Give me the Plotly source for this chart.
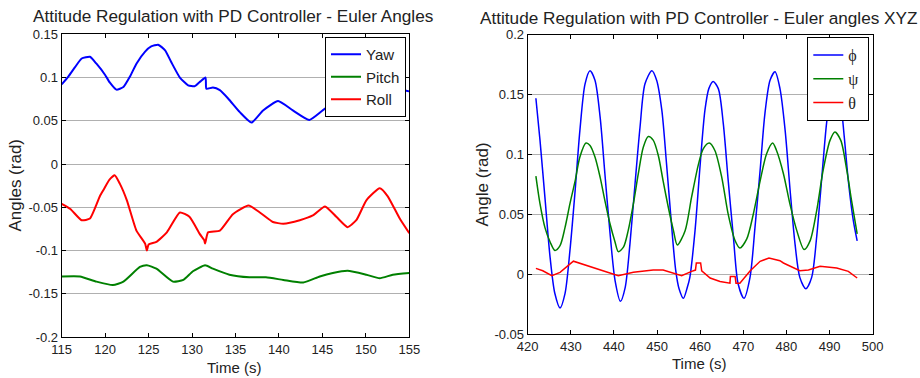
import plotly.graph_objects as go

# ---------------- Left panel: Euler Angles (time in s, angle in rad) ----------------
yaw_t = [115, 115.76, 116.53, 117.3, 118.25, 119.0, 120.0, 120.55, 121.3, 122.1, 122.85, 123.6,
         124.6, 125.3, 126.1, 126.9, 127.6, 128.6, 129.55, 130.3, 130.9, 131.55, 131.65, 132.4,
         133.2, 134.15, 135.5, 136.84, 138.17, 139.9, 141.6, 143.5, 145.3, 147, 149, 151, 153,
         154.65, 155]
yaw_v = [0.092, 0.101, 0.112, 0.122, 0.124, 0.116, 0.103, 0.094, 0.086, 0.089, 0.101, 0.116,
         0.130, 0.136, 0.138, 0.1315, 0.118, 0.100, 0.091, 0.090, 0.095, 0.100, 0.087, 0.0885,
         0.0854, 0.0758, 0.060, 0.048, 0.062, 0.0728, 0.062, 0.051, 0.064, 0.072, 0.080, 0.084,
         0.085, 0.0846, 0.084]

pitch_t = [115, 117.1, 119.0, 120.9, 122.1, 124.0, 124.8, 125.9, 127.8, 129.0, 130.1, 131.5,
           132.4, 134.3, 136.6, 138.5, 140.5, 142.8, 144.7, 146.2, 147.9, 150.06, 151.6, 153.1, 155]
pitch_v = [-0.130, -0.130, -0.136, -0.140, -0.136, -0.119, -0.117, -0.121, -0.136, -0.134, -0.124,
           -0.117, -0.121, -0.128, -0.131, -0.131, -0.134, -0.137, -0.130, -0.126, -0.1235, -0.128,
           -0.132, -0.128, -0.126]

roll_t = [115, 116.0, 117.3, 118.25, 119.4, 119.8, 120.5, 121.1, 121.7, 122.5, 123.6, 124.6,
          124.8, 125.0, 125.9, 127.1, 128.6, 129.7, 130.9, 131.4, 131.5, 131.85, 133.2, 134.7,
          136.5, 137.8, 139.3, 140.5, 142.4, 143.9, 145.3, 146.6, 147.9, 148.9, 150.06, 151.6,
          152.5, 153.9, 155]
roll_v = [-0.046, -0.052, -0.065, -0.063, -0.037, -0.030, -0.018, -0.013, -0.023, -0.042, -0.077,
          -0.092, -0.100, -0.093, -0.090, -0.079, -0.056, -0.061, -0.081, -0.088, -0.092, -0.079,
          -0.077, -0.058, -0.048, -0.056, -0.067, -0.069, -0.065, -0.0595, -0.049, -0.061, -0.073,
          -0.065, -0.042, -0.028, -0.037, -0.063, -0.080]

left_xticks = [115, 120, 125, 130, 135, 140, 145, 150, 155]
left_xticktext = ["115", "120", "125", "130", "135", "140", "145", "150", "155"]
left_yticks = [-0.2, -0.15, -0.1, -0.05, 0, 0.05, 0.1, 0.15]
left_yticktext = ["-0.2", "-0.15", "-0.1", "-0.05", "0", "0.05", "0.1", "0.15"]

# ---------------- Right panel: Euler angles XYZ ----------------
phi_t = [421.9, 422.85, 424.0, 425.2, 426.3, 427.5, 428.65, 429.8, 431.0, 432.1, 433.3, 434.45,
         435.6, 436.8, 437.9, 439.1, 440.25, 441.5, 442.6, 443.7, 444.9, 446.05, 447.2, 448.8,
         449.9, 451.1, 452.2, 453.2, 454.3, 455.1, 456.1, 457.0, 457.6, 458.8, 460.0, 461.1,
         462.0, 463.0, 464.2, 465.35, 466.5, 467.7, 468.8, 470.15, 471.55, 472.7, 473.9, 475.0,
         476.2, 477.35, 478.5, 479.7, 480.85, 482.0, 483.1, 484.5, 485.85, 487.0, 488.2, 489.3,
         490.3, 491.3, 492.4, 493.4, 494.35, 495.5, 496.4]
phi_v = [0.147, 0.112, 0.064, 0.014, -0.016, -0.028, -0.016, 0.020, 0.070, 0.120, 0.159, 0.170,
         0.162, 0.131, 0.084, 0.034, -0.005, -0.0225, -0.011, 0.025, 0.076, 0.123, 0.159, 0.170,
         0.162, 0.137, 0.092, 0.048, 0.004, -0.012, -0.020, -0.011, -0.0025, 0.0365, 0.092, 0.137,
         0.155, 0.161, 0.155, 0.126, 0.078, 0.031, -0.008, -0.020, -0.0025, 0.039, 0.087, 0.134,
         0.162, 0.169, 0.155, 0.120, 0.070, 0.025, -0.0025, -0.012, -0.0025, 0.031, 0.081, 0.126,
         0.152, 0.168, 0.150, 0.115, 0.078, 0.045, 0.028]

psi_t = [421.9, 422.85, 424.0, 425.2, 426.3, 427.5, 428.65, 429.8, 431.0, 432.1, 433.5, 434.45,
         435.6, 436.8, 437.9, 439.1, 440.25, 441.0, 442.2, 443.3, 444.5, 445.65, 446.8, 447.95,
         449.1, 450.3, 451.4, 452.6, 453.8, 454.7, 456.5, 458.0, 459.6, 460.7, 462.1, 463.4,
         465.0, 466.5, 468.1, 469.2, 470.8, 472.3, 473.9, 475.4, 476.8, 477.7, 479.3, 480.8,
         482.4, 484.1, 485.5, 487.0, 488.5, 490.1, 491.25, 492.6, 494.0, 495.1, 496.4]
psi_v = [0.082, 0.059, 0.039, 0.027, 0.020, 0.024, 0.039, 0.059, 0.078, 0.098, 0.1096, 0.1076,
         0.098, 0.081, 0.0616, 0.042, 0.027, 0.019, 0.0227, 0.0365, 0.0588, 0.084, 0.106, 0.115,
         0.112, 0.099, 0.078, 0.056, 0.0365, 0.0245, 0.0365, 0.0644, 0.092, 0.1048, 0.1096, 0.1034,
         0.081, 0.050, 0.028, 0.022, 0.0296, 0.050, 0.078, 0.1007, 0.1096, 0.1034, 0.084, 0.0588,
         0.0365, 0.0207, 0.0282, 0.053, 0.0867, 0.1118, 0.1188, 0.1118, 0.0867, 0.0616, 0.0337]

theta_t = [421.9, 423.5, 425.6, 427.5, 430.6, 433.7, 436.8, 441.0, 444.5, 447.0, 449.1, 451.4,
           453.0, 455.7, 458.0, 458.9, 459.1, 460.1, 460.35, 462.3, 464.6, 466.9, 467.0, 468.1,
           468.3, 469.2, 471.6, 473.9, 475.95, 478.5, 479.3, 481.6, 483.1, 485.1, 487.8, 491.65,
           494.35, 496.4]
theta_v = [0.005, 0.003, -0.001, 0.0017, 0.011, 0.0073, 0.0036, -0.0011, 0.0017, 0.003, 0.0036,
           0.0036, 0.0017, -0.0011, 0.0025, 0.0036, 0.0095, 0.0095, 0.003, -0.003, -0.0059, -0.0073,
           -0.0017, -0.0017, -0.0073, -0.0073, 0.003, 0.0109, 0.0137, 0.0114, 0.0095, 0.0053, 0.003,
           0.0036, 0.0067, 0.0053, 0.0025, -0.003]

right_xticks = [420, 430, 440, 450, 460, 470, 480, 490, 500]
right_xticktext = ["420", "430", "440", "450", "460", "470", "480", "490", "500"]
right_yticks = [-0.05, 0, 0.05, 0.1, 0.15, 0.2]
right_yticktext = ["-0.05", "0", "0.05", "0.1", "0.15", "0.2"]

BLUE, GREEN, RED = "#0000ff", "#008000", "#ff0000"
W, H = 920, 378
FONT = "Liberation Sans, Arial, sans-serif"
SERIF = "Liberation Serif, Times New Roman, serif"

fig = go.Figure()
fig.add_trace(go.Scatter(x=yaw_t, y=yaw_v, name="Yaw", mode="lines",
                         line=dict(color=BLUE, width=2, shape="spline", smoothing=0.5),
                         xaxis="x", yaxis="y", legend="legend"))
fig.add_trace(go.Scatter(x=pitch_t, y=pitch_v, name="Pitch", mode="lines",
                         line=dict(color=GREEN, width=2, shape="spline", smoothing=0.5),
                         xaxis="x", yaxis="y", legend="legend"))
fig.add_trace(go.Scatter(x=roll_t, y=roll_v, name="Roll", mode="lines",
                         line=dict(color=RED, width=2, shape="spline", smoothing=0.5),
                         xaxis="x", yaxis="y", legend="legend"))

fig.add_trace(go.Scatter(x=phi_t, y=phi_v, name="ϕ\u00a0", mode="lines",
                         line=dict(color=BLUE, width=1.5, shape="spline", smoothing=0.8),
                         xaxis="x2", yaxis="y2", legend="legend2"))
fig.add_trace(go.Scatter(x=psi_t, y=psi_v, name="ψ\u00a0", mode="lines",
                         line=dict(color=GREEN, width=1.5, shape="spline", smoothing=0.8),
                         xaxis="x2", yaxis="y2", legend="legend2"))
fig.add_trace(go.Scatter(x=theta_t, y=theta_v, name="θ\u00a0", mode="lines",
                         line=dict(color=RED, width=1.5),
                         xaxis="x2", yaxis="y2", legend="legend2"))

axis_common = dict(ticks="inside", ticklen=4, tickcolor="black", showline=True, linecolor="black",
                   linewidth=1, mirror="ticks", zeroline=False,
                   tickfont=dict(family=FONT, size=13, color="#222222"))

fig.update_layout(
    width=W, height=H, template="none",
    margin=dict(l=0, r=0, t=0, b=0),
    paper_bgcolor="white", plot_bgcolor="white",
    font=dict(family=FONT, color="#222222"),
    showlegend=True,
    xaxis=dict(domain=[61.7 / W, 409.3 / W], range=[115, 155], tickmode="array",
               tickvals=left_xticks, ticktext=left_xticktext, showgrid=False, anchor="y",
               **axis_common),
    yaxis=dict(domain=[1 - 337 / H, 1 - 34.3 / H], range=[-0.2, 0.15], tickmode="array",
               tickvals=left_yticks, ticktext=left_yticktext, showgrid=True,
               gridcolor="#b0b0b0", gridwidth=1, anchor="x", **axis_common),
    xaxis2=dict(domain=[527.7 / W, 872.7 / W], range=[420, 500], tickmode="array",
                tickvals=right_xticks, ticktext=right_xticktext, showgrid=False, anchor="y2",
                **axis_common),
    yaxis2=dict(domain=[1 - 334.3 / H, 1 - 34.7 / H], range=[-0.05, 0.2], tickmode="array",
                tickvals=right_yticks, ticktext=right_yticktext, showgrid=True,
                gridcolor="#b0b0b0", gridwidth=1, anchor="x2", **axis_common),
    legend=dict(x=406 / W, xanchor="right", y=1 - 37 / H, yanchor="top",
                bgcolor="white", bordercolor="black", borderwidth=1,
                font=dict(family=FONT, size=15, color="#222222")),
    legend2=dict(x=869.3 / W, xanchor="right", y=1 - 37 / H, yanchor="top",
                 bgcolor="white", bordercolor="black", borderwidth=1,
                 font=dict(family=SERIF, size=16, color="#222222")),
)

def ann(text, x, y, size=15, angle=0):
    fig.add_annotation(text=text, x=x / W, y=1 - y / H, xref="paper", yref="paper",
                       xanchor="center", yanchor="middle", showarrow=False, textangle=angle,
                       font=dict(family=FONT, size=size, color="#222222"))

ann("Attitude Regulation with PD Controller - Euler Angles", 233, 16, size=17.2)
ann("Attitude Regulation with PD Controller - Euler angles XYZ", 699, 18, size=17.2)
ann("Time (s)", 234, 367, size=15)
ann("Time (s)", 699, 363, size=15)
ann("Angles (rad)", 16, 185.6, size=17, angle=-90)
ann("Angle (rad)", 482, 184.5, size=17, angle=-90)

fig.write_html("out.html", config={"displayModeBar": False},
               post_script="document.body.style.margin='0';")
